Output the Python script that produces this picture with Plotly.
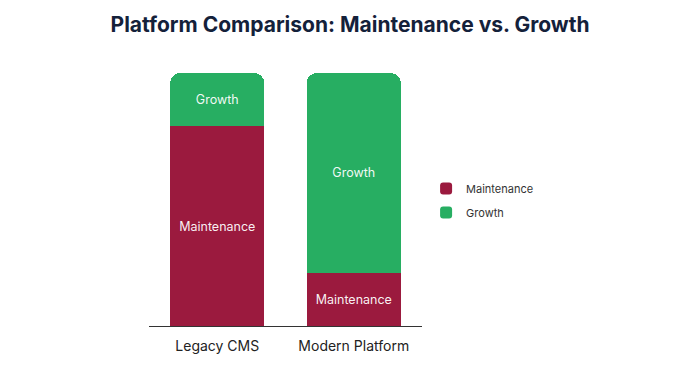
import plotly.graph_objects as go

categories = ["Legacy CMS", "Modern Platform"]
maintenance = [79, 21]
growth = [21, 79]
series_names = ["Maintenance", "Growth"]
colors = ["#9B1A3E", "#27AE62"]

fig = go.Figure()
for name, vals, col in zip(series_names, [maintenance, growth], colors):
    fig.add_trace(go.Bar(
        x=categories, y=vals, name=name, legendgroup=name,
        marker=dict(color=col, line=dict(width=0), cornerradius=10),
        text=[name] * len(vals), textposition="inside",
        insidetextanchor="middle",
        textfont=dict(color="rgba(255,255,255,0.95)", size=12.5, family="Inter"),
        hoverinfo="x+y+name",
    ))

fig.update_layout(
    width=700, height=370,
    barmode="stack", bargap=0.31,
    paper_bgcolor="white", plot_bgcolor="white",
    margin=dict(l=141, r=286, t=65, b=52),
    font=dict(family="Inter", color="#222"),
    title=dict(text="<b>Platform Comparison: Maintenance vs. Growth</b>",
               x=0.4886, xanchor="center", y=0.954, yanchor="middle",
               font=dict(size=21, color="#14213A", family="Inter")),
    xaxis=dict(showline=True, linecolor="#333", linewidth=1, ticks="",
               tickfont=dict(size=14, color="#222"), showgrid=False,
               ticklabelstandoff=7),
    yaxis=dict(range=[0, 100], visible=False, showgrid=False),
    legend=dict(x=1.015, y=0.496, xanchor="left", yanchor="middle",
                traceorder="grouped", font=dict(size=11, color="#333"),
                itemsizing="constant", tracegroupgap=5),
    showlegend=True,
)

fig.write_html("out.html")
